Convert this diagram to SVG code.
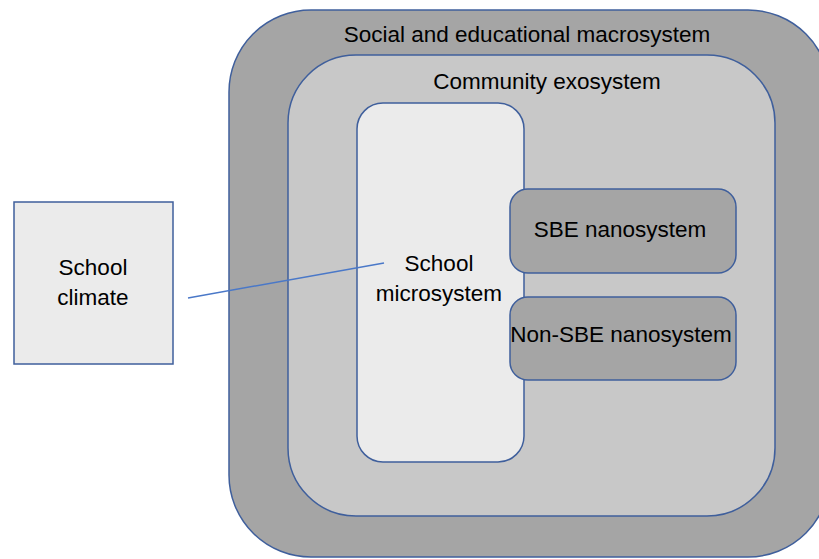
<svg xmlns="http://www.w3.org/2000/svg" width="819" height="559" viewBox="0 0 819 559">
  <style>
    .sys { stroke: #3f5f9c; stroke-width: 1.5; }
    .macro { fill: #a5a5a5; }
    .exo { fill: #c8c8c8; }
    .micro { fill: #ebebeb; }
    .nano { fill: #a5a5a5; }
    .lbl { font-family: "Liberation Sans", Arial, sans-serif; font-size: 22.5px; fill: #000; text-anchor: middle; }
    .link { stroke: #4a78c8; stroke-width: 1.5; fill: none; }
  </style>
  <rect width="819" height="559" fill="#ffffff"/>

  <g id="macrosystem">
    <rect class="sys macro" x="229" y="10" width="601" height="547" rx="82" ry="82"/>
    <text class="lbl" x="527" y="42">Social and educational macrosystem</text>
  </g>

  <g id="exosystem">
    <rect class="sys exo" x="288" y="55" width="487" height="461" rx="68" ry="68"/>
    <text class="lbl" x="547" y="89">Community exosystem</text>
  </g>

  <g id="microsystem">
    <rect class="sys micro" x="357" y="103" width="167" height="359" rx="26" ry="26"/>
    <text class="lbl" x="439" y="271">School</text>
    <text class="lbl" x="439" y="301">microsystem</text>
  </g>

  <g id="sbe-nanosystem">
    <rect class="sys nano" x="510" y="189" width="226" height="84" rx="18" ry="18"/>
    <text class="lbl" x="620" y="237">SBE nanosystem</text>
  </g>

  <g id="non-sbe-nanosystem">
    <rect class="sys nano" x="510" y="297" width="226" height="83" rx="18" ry="18"/>
    <text class="lbl" x="621" y="342">Non-SBE nanosystem</text>
  </g>

  <g id="school-climate">
    <rect class="sys micro" x="14" y="202" width="159" height="162"/>
    <text class="lbl" x="93" y="275">School</text>
    <text class="lbl" x="93" y="305">climate</text>
  </g>

  <g id="connectors">
    <line class="link" x1="188" y1="298" x2="384" y2="263"/>
  </g>
</svg>
